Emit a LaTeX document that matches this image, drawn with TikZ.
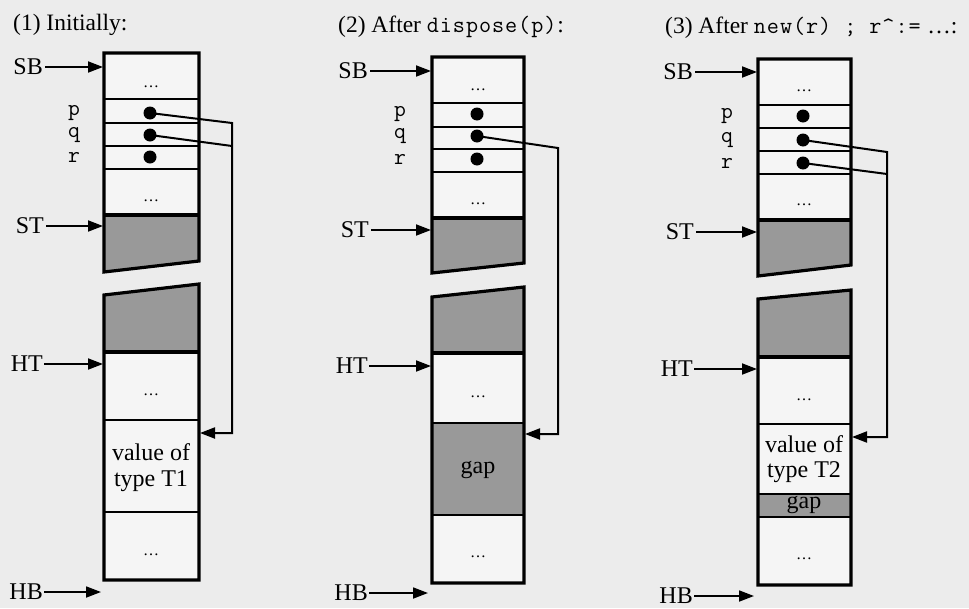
\documentclass[tikz,border=0pt]{standalone}
\usepackage{fontspec}
\setmainfont{Liberation Serif}
\setmonofont{Latin Modern Mono}[LetterSpace=4]
\usetikzlibrary{arrows.meta}
\definecolor{bg}{HTML}{ECECEC}
\definecolor{cell}{HTML}{F5F5F5}
\definecolor{grayfill}{HTML}{999999}
\begin{document}
\begin{tikzpicture}[x=1pt,y=-1pt,
  border/.style={line width=3.2pt,line join=miter},
  rowline/.style={line width=2.2pt},
  ptr/.style={line width=2pt,line join=miter},
  lbl/.style={font=\fontsize{24}{27}\selectfont,inner sep=0pt},
  title/.style={font=\fontsize{23.5}{27}\selectfont,inner sep=0pt,anchor=base west},
  varname/.style={font=\fontsize{23}{24}\selectfont\ttfamily,inner sep=0pt},
  ell/.style={font=\fontsize{16}{18}\selectfont,inner sep=0pt},
  valtxt/.style={font=\fontsize{24}{26}\selectfont,inner sep=0pt,align=center},
  dotnode/.style={circle,fill=black,minimum size=13pt,inner sep=0pt},
  tip/.style={-{Triangle[length=15pt,width=11pt]},line width=1.8pt},
  ptrtip/.style={-{Triangle[length=15pt,width=11pt]},line width=2pt,line join=miter}
]
\fill[bg] (0,0) rectangle (969,608);
\useasboundingbox (0,0) rectangle (969,608);

% ================= Column 1 =================
\node[title] (t1) at (13,30) {(1) Initially:};
% upper piece
\fill[cell] (104,53) rectangle (199,215);
\fill[grayfill] (104,215) -- (199,215) -- (199,261) -- (104,272) -- cycle;
\draw[rowline] (104,99) -- (199,99) (104,123) -- (199,123) (104,146) -- (199,146) (104,169) -- (199,169);
\draw[border] (104,215) -- (199,215);
\draw[border] (104,53) -- (199,53) -- (199,261) -- (104,272) -- cycle;
% lower piece
\fill[grayfill] (104,295) -- (199,284) -- (199,352) -- (104,352) -- cycle;
\fill[cell] (104,352) rectangle (199,580);
\draw[rowline] (104,420) -- (199,420) (104,512) -- (199,512);
\draw[border] (104,352) -- (199,352);
\draw[border] (104,295) -- (199,284) -- (199,580) -- (104,580) -- cycle;
% contents
\node[ell] (e1a) at (151,87) {\ldots};
\node[ell] (e1b) at (151,201) {\ldots};
\node[ell] (e1c) at (151,395) {\ldots};
\node[valtxt] (v1) at (151,468) {value of\\type T1};
\node[ell] (e1d) at (151,555) {\ldots};
\node[varname] (lp1) at (74,113) {p};
\node[varname] (lq1) at (74,135) {q};
\node[varname] (lr1) at (74,157) {r};
\node[dotnode] (p1) at (150,113) {};
\node[dotnode] (q1) at (150,135) {};
\node[dotnode] (r1) at (150,157) {};
% pointers
\coordinate (j1a) at (232,123);
\coordinate (j1b) at (232,146);
\coordinate (j1c) at (232,433);
\coordinate (a1) at (200,433);
\draw[ptrtip] (p1.center) -- (j1a) -- (j1c) -- (a1);
\draw[ptr] (q1.center) -- (j1b);
% register labels
\node[lbl,anchor=east] (sb1) at (43,67) {SB};
\node[lbl,anchor=east] (st1) at (44,226) {ST};
\node[lbl,anchor=east] (ht1) at (43,364) {HT};
\node[lbl,anchor=east] (hb1) at (43,592) {HB};
\coordinate (sb1t) at (103,67);
\coordinate (st1t) at (103,226);
\coordinate (ht1t) at (103,364);
\coordinate (hb1t) at (101,592);
\draw[tip] (sb1.east) ++(2,0) -- (sb1t);
\draw[tip] (st1.east) ++(2,0) -- (st1t);
\draw[tip] (ht1.east) ++(1,0) -- (ht1t);
\draw[tip] (hb1.east) ++(1,0) -- (hb1t);

% ================= Column 2 =================
\node[title] (t2) at (338,32) {(2) After \texttt{dispose(p)}:};
\fill[cell] (432,57) rectangle (524,218);
\fill[grayfill] (432,218) -- (524,218) -- (524,263) -- (432,273) -- cycle;
\draw[rowline] (432,103) -- (524,103) (432,127) -- (524,127) (432,149) -- (524,149) (432,172) -- (524,172);
\draw[border] (432,218) -- (524,218);
\draw[border] (432,57) -- (524,57) -- (524,263) -- (432,273) -- cycle;
\fill[grayfill] (432,297) -- (524,287) -- (524,353) -- (432,353) -- cycle;
\fill[cell] (432,353) rectangle (524,583);
\fill[grayfill] (432,423) rectangle (524,515);
\draw[rowline] (432,423) -- (524,423) (432,515) -- (524,515);
\draw[border] (432,353) -- (524,353);
\draw[border] (432,297) -- (524,287) -- (524,583) -- (432,583) -- cycle;
\node[ell] (e2a) at (478,90) {\ldots};
\node[ell] (e2b) at (478,204) {\ldots};
\node[ell] (e2c) at (478,397) {\ldots};
\node[lbl] (g2) at (478,470) {gap};
\node[ell] (e2d) at (478,557) {\ldots};
\node[varname] (lp2) at (400,114) {p};
\node[varname] (lq2) at (400,136) {q};
\node[varname] (lr2) at (400,159) {r};
\node[dotnode] (p2) at (477,114) {};
\node[dotnode] (q2) at (477,136) {};
\node[dotnode] (r2) at (477,159) {};
\coordinate (j2a) at (558,148);
\coordinate (j2c) at (558,434);
\coordinate (a2) at (525,434);
\draw[ptrtip] (q2.center) -- (j2a) -- (j2c) -- (a2);
\node[lbl,anchor=east] (sb2) at (368,71) {SB};
\node[lbl,anchor=east] (st2) at (369,230) {ST};
\node[lbl,anchor=east] (ht2) at (368,366) {HT};
\node[lbl,anchor=east] (hb2) at (368,593) {HB};
\coordinate (sb2t) at (431,71);
\coordinate (st2t) at (431,230);
\coordinate (ht2t) at (431,366);
\coordinate (hb2t) at (428,593);
\draw[tip] (sb2.east) ++(2,0) -- (sb2t);
\draw[tip] (st2.east) ++(2,0) -- (st2t);
\draw[tip] (ht2.east) ++(1,0) -- (ht2t);
\draw[tip] (hb2.east) ++(1,0) -- (hb2t);

% ================= Column 3 =================
\node[title] (t3) at (665,33) {(3) After \texttt{new(r) ; r\textasciicircum:=} \ldots:};
\fill[cell] (758,59) rectangle (851,220);
\fill[grayfill] (758,220) -- (851,220) -- (851,265) -- (758,276) -- cycle;
\draw[rowline] (758,105) -- (851,105) (758,128) -- (851,128) (758,151) -- (851,151) (758,174) -- (851,174);
\draw[border] (758,220) -- (851,220);
\draw[border] (758,59) -- (851,59) -- (851,265) -- (758,276) -- cycle;
\fill[grayfill] (758,299) -- (851,290) -- (851,357) -- (758,357) -- cycle;
\fill[cell] (758,357) rectangle (851,585);
\fill[grayfill] (758,494) rectangle (851,517);
\draw[rowline] (758,424) -- (851,424) (758,494) -- (851,494) (758,517) -- (851,517);
\draw[border] (758,357) -- (851,357);
\draw[border] (758,299) -- (851,290) -- (851,585) -- (758,585) -- cycle;
\node[ell] (e3a) at (804,91) {\ldots};
\node[ell] (e3b) at (804,205) {\ldots};
\node[ell] (e3c) at (804,400) {\ldots};
\node[valtxt,font=\fontsize{24}{25}\selectfont] (v3) at (804,459) {value of\\type T2};
\node[lbl] (g3) at (804,505) {gap};
\node[ell] (e3d) at (804,559) {\ldots};
\node[varname] (lp3) at (727,116) {p};
\node[varname] (lq3) at (727,140) {q};
\node[varname] (lr3) at (727,163) {r};
\node[dotnode] (p3) at (803,116) {};
\node[dotnode] (q3) at (803,140) {};
\node[dotnode] (r3) at (803,163) {};
\coordinate (j3a) at (887,152);
\coordinate (j3b) at (887,174);
\coordinate (j3c) at (887,437);
\coordinate (a3) at (852,437);
\draw[ptrtip] (q3.center) -- (j3a) -- (j3c) -- (a3);
\draw[ptr] (r3.center) -- (j3b);
\node[lbl,anchor=east] (sb3) at (693,72) {SB};
\node[lbl,anchor=east] (st3) at (694,232) {ST};
\node[lbl,anchor=east] (ht3) at (693,369) {HT};
\node[lbl,anchor=east] (hb3) at (693,596) {HB};
\coordinate (sb3t) at (757,72);
\coordinate (st3t) at (757,232);
\coordinate (ht3t) at (757,369);
\coordinate (hb3t) at (754,596);
\draw[tip] (sb3.east) ++(2,0) -- (sb3t);
\draw[tip] (st3.east) ++(2,0) -- (st3t);
\draw[tip] (ht3.east) ++(1,0) -- (ht3t);
\draw[tip] (hb3.east) ++(1,0) -- (hb3t);
\end{tikzpicture}
\end{document}
